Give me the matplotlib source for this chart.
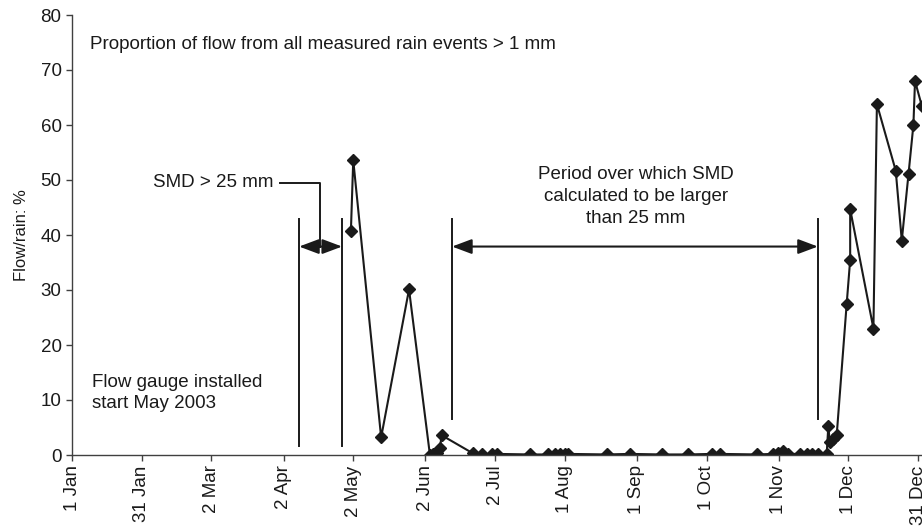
import matplotlib
matplotlib.use("Agg")
import matplotlib.pyplot as plt

plt.rcParams['font.family'] = ['Liberation Sans', 'DejaVu Sans']

# days since 1 Jan 2003
days = [120, 121, 133, 145, 154, 155.3, 157, 158.3, 159,
        172.5, 176.3, 180.6, 182.7, 197, 204.8, 207.8, 210, 212.1, 213.4,
        230, 240, 253.7, 265, 275.3, 278.8, 294.7, 301.6, 303.8, 306, 308,
        313.3, 316.1, 318.3, 321, 324.7, 325.4, 326, 327.5, 329,
        333.3, 334.8, 334.8, 344.8, 346.3, 354.4, 357, 359.9, 362, 362.7, 365.6]
flow_rain = [40.8, 53.6, 3.2, 30.1, 0.0, 0.1, 0.3, 1.2, 3.6,
             0.3, 0.2, 0.1, 0.2, 0.1, 0.1, 0.2, 0.1, 0.1, 0.2,
             0.1, 0.2, 0.1, 0.1, 0.2, 0.2, 0.1, 0.2, 0.3, 0.8, 0.2,
             0.2, 0.1, 0.2, 0.1, 0.2, 5.3, 2.4, 3.0, 3.6,
             27.5, 35.5, 44.7, 23.0, 63.8, 51.7, 39.0, 51.1, 60.0, 68.0, 63.5]

tick_days = [0, 30, 60, 91, 121, 152, 182, 212, 243, 273, 304, 334, 364]
tick_labels = ['1 Jan', '31 Jan', '2 Mar', '2 Apr', '2 May', '2 Jun', '2 Jul',
               '1 Aug', '1 Sep', '1 Oct', '1 Nov', '1 Dec', '31 Dec']

fig = plt.figure(figsize=(9.22, 5.28), dpi=100)
ax = fig.add_axes([72 / 922, 73 / 528, 850 / 922, 440 / 528])

ax.plot(days, flow_rain, color='#1a1a1a', lw=1.5, marker='D', markersize=6.3,
        markerfacecolor='#1a1a1a', markeredgecolor='#1a1a1a')

ax.set_xlim(0, 365.7)
ax.set_ylim(0, 80)
ax.set_yticks(range(0, 81, 10))
ax.set_xticks(tick_days)
ax.set_xticklabels(tick_labels, rotation=90)
ax.tick_params(axis='both', direction='out', length=4, width=1, colors='#404040',
               labelcolor='#1a1a1a', labelsize=13.5)
ax.set_ylabel('Flow/rain: %', fontsize=12, color='#1a1a1a', labelpad=8)
for s in ['top', 'right']:
    ax.spines[s].set_visible(False)
for s in ['left', 'bottom']:
    ax.spines[s].set_color('#404040')
    ax.spines[s].set_linewidth(1)

# SMD markers
lk = dict(color='#1a1a1a', lw=1.4)
ax.plot([97.7, 97.7], [1.6, 42.9], **lk)
ax.plot([116.2, 116.2], [1.6, 42.9], **lk)
ax.plot([163.5, 163.5], [6.5, 42.9], **lk)
ax.plot([320.9, 320.9], [6.5, 42.9], **lk)

arrow = dict(arrowstyle='<|-|>,head_length=1.2,head_width=0.45', color='#1a1a1a',
             lw=1.5, shrinkA=0, shrinkB=0)
ax.annotate('', xy=(97.7, 37.9), xytext=(116.2, 37.9), arrowprops=arrow)
ax.annotate('', xy=(163.5, 37.9), xytext=(320.9, 37.9), arrowprops=arrow)
ax.plot([89.5, 106.7, 106.7], [49.5, 49.5, 37.9], **lk)

tk = dict(fontsize=13.5, color='#1a1a1a')
ax.text(86.5, 49.6, 'SMD > 25 mm', ha='right', va='center', **tk)
ax.text(242.7, 47.0, 'Period over which SMD\ncalculated to be larger\nthan 25 mm',
        ha='center', va='center', linespacing=1.35, **tk)
ax.text(7.7, 74.7, 'Proportion of flow from all measured rain events > 1 mm',
        ha='left', va='center', **tk)
ax.text(8.6, 11.2, 'Flow gauge installed\nstart May 2003', ha='left', va='center',
        linespacing=1.3, **tk)

fig.savefig('out.png', dpi=100)
